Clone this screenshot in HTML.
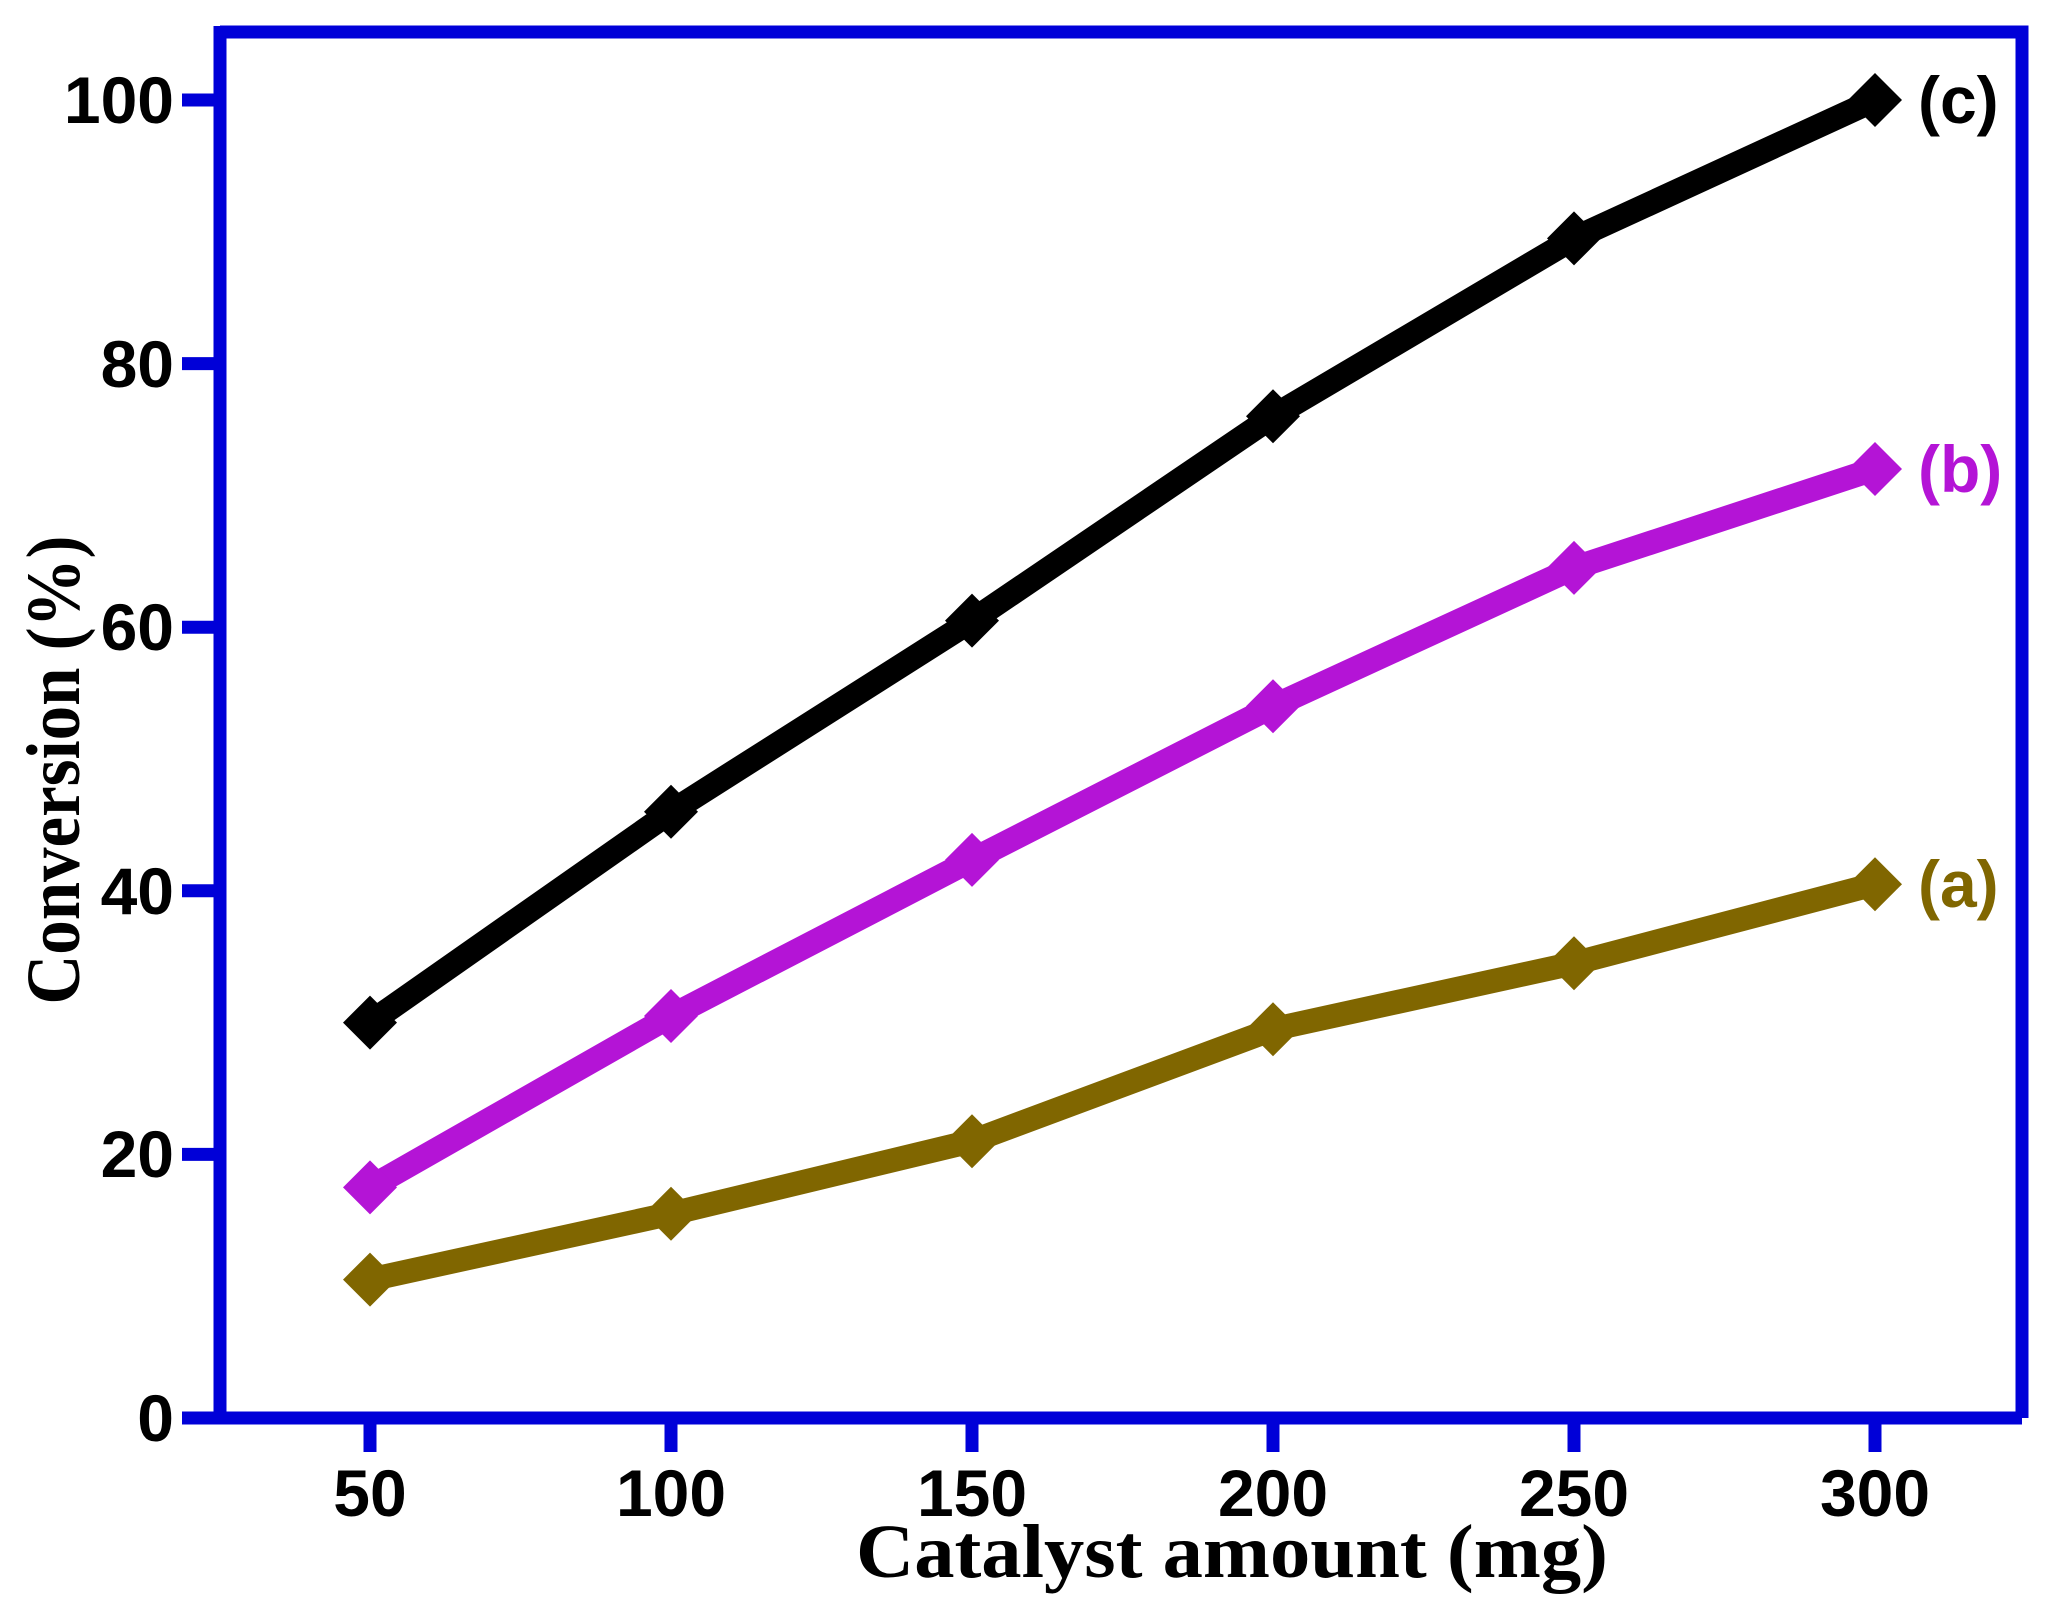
<!DOCTYPE html>
<html><head><meta charset="utf-8"><style>html,body{margin:0;padding:0;background:#fff}</style></head>
<body>
<svg width="2060" height="1619" viewBox="0 0 2060 1619" xmlns="http://www.w3.org/2000/svg">
<rect width="2060" height="1619" fill="#fff"/>
<g stroke="#0000d8" stroke-width="13" fill="none">
<path d="M220,32 H2022 V1418 M182,1418 H2022 M220,26 V1424"/>
<path d="M182,100 H220 M182,363.6 H220 M182,627.2 H220 M182,890.8 H220 M182,1154.4 H220"/>
<path d="M370,1418 V1452 M671,1418 V1452 M972,1418 V1452 M1273,1418 V1452 M1574,1418 V1452 M1875,1418 V1452"/>
</g>
<g font-family="Liberation Sans, sans-serif" font-weight="bold" font-size="66" fill="#000">
<g text-anchor="end">
<text x="174" y="123">100</text>
<text x="174" y="387">80</text>
<text x="174" y="650">60</text>
<text x="174" y="914">40</text>
<text x="174" y="1177">20</text>
<text x="174" y="1441">0</text>
</g>
<g text-anchor="middle">
<text x="370" y="1516">50</text>
<text x="671" y="1516">100</text>
<text x="972" y="1516">150</text>
<text x="1273" y="1516">200</text>
<text x="1574" y="1516">250</text>
<text x="1875" y="1516">300</text>
</g>
<text x="1918" y="123">(c)</text>
<text x="1918" y="492" fill="#b414d6">(b)</text>
<text x="1918" y="907" fill="#806600">(a)</text>
</g>
<text x="856" y="1577" font-family="Liberation Serif, serif" font-weight="bold" font-size="76" textLength="752" lengthAdjust="spacingAndGlyphs">Catalyst amount (mg)</text>
<text transform="translate(79,770) rotate(-90)" text-anchor="middle" font-family="Liberation Serif, serif" font-weight="bold" font-size="76" textLength="469" lengthAdjust="spacingAndGlyphs">Conversion (%)</text>
<defs>
<path id="d" d="M0,-27 L27,0 L0,27 L-27,0 Z"/>
</defs>
<g fill="none" stroke-width="24" stroke-linejoin="round">
<polyline stroke="#806600" points="370,1279.6 671,1213.7 972,1141.2 1273,1029.2 1574,963.3 1875,884.2"/>
<polyline stroke="#b414d6" points="370,1187.4 671,1016.0 972,859.9 1273,706.3 1574,567.9 1875,469.0"/>
<polyline stroke="#000" points="370,1022.6 671,811.7 972,620.6 1273,416.3 1574,238.4 1875,100"/>
</g>
<g fill="#806600">
<use href="#d" x="370" y="1279.6"/><use href="#d" x="671" y="1213.7"/><use href="#d" x="972" y="1141.2"/><use href="#d" x="1273" y="1029.2"/><use href="#d" x="1574" y="963.3"/><use href="#d" x="1875" y="884.2"/>
</g>
<g fill="#b414d6">
<use href="#d" x="370" y="1187.4"/><use href="#d" x="671" y="1016.0"/><use href="#d" x="972" y="859.9"/><use href="#d" x="1273" y="706.3"/><use href="#d" x="1574" y="567.9"/><use href="#d" x="1875" y="469.0"/>
</g>
<g fill="#000">
<use href="#d" x="370" y="1022.6"/><use href="#d" x="671" y="811.7"/><use href="#d" x="972" y="620.6"/><use href="#d" x="1273" y="416.3"/><use href="#d" x="1574" y="238.4"/><use href="#d" x="1875" y="100"/>
</g>
</svg>
</body></html>
